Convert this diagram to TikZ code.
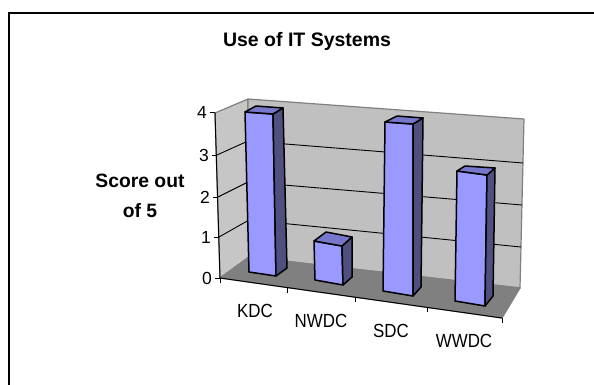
\documentclass[tikz,border=0pt]{standalone}
\usepackage{fontspec}
\setmainfont{Liberation Sans}
\definecolor{barfront}{RGB}{153,153,255}
\definecolor{bartop}{RGB}{119,119,204}
\definecolor{barside}{RGB}{80,80,128}
\definecolor{sidewall}{RGB}{198,198,198}
\definecolor{backwall}{RGB}{192,192,192}
\definecolor{floorgray}{RGB}{128,128,128}
\definecolor{walledge}{RGB}{128,128,128}
\begin{document}
\begin{tikzpicture}[x=1pt,y=-1pt,
  wall/.style={draw=walledge,line width=1.2pt,line join=round},
  grid/.style={draw=black,line width=0.9pt},
  axis/.style={draw=black,line width=1pt},
  barface/.style={draw=black,line width=1.5pt,line join=round},
  ticklabel/.style={font=\fontsize{17.5}{20}\selectfont,inner sep=0pt,anchor=base east},
  catlabel/.style={font=\fontsize{19}{22}\selectfont,inner sep=0pt,anchor=base,xscale=0.89},
  heading/.style={font=\bfseries\fontsize{19.5}{23}\selectfont,inner sep=0pt,anchor=base}]
\useasboundingbox (0,0) rectangle (594,385);
\fill[white] (0,0) rectangle (594,385);
% chart area frame
\draw[line width=2pt] (9,395) -- (9,13) -- (600,13);

% walls and floor
\path[wall,fill=sidewall] (215,113) -- (248,99) -- (249,257) -- (220,278) -- cycle;
\path[wall,fill=backwall] (248,99) -- (524,119) -- (520,288) -- (249,257) -- cycle;
\path[wall,fill=floorgray] (220,278) -- (249,257) -- (520,288) -- (502,318) -- cycle;

% gridlines
\draw[grid] (217,155) -- (248,141) -- (523,163);
\draw[grid] (218,197) -- (248,182) -- (522,205);
\draw[grid] (219,237) -- (249,220) -- (521,247);

% value axis with ticks
\draw[axis] (215,113) -- (220,278);
\foreach \x/\y in {215/113,217/155,218/197,219/237,220/278}
  \draw[axis] (\x-5,\y) -- (\x,\y);
% category axis with ticks
\draw[axis] (220,278) -- (502,318);
\foreach \x/\y in {220/278,287/287.5,355/297.1,427/307.4,502/318}
  \draw[axis] (\x,\y) -- (\x,\y+5);

% value labels
\node[ticklabel] (v4) at (207,119) {4};
\node[ticklabel] (v3) at (209,161) {3};
\node[ticklabel] (v2) at (210,203) {2};
\node[ticklabel] (v1) at (211,243) {1};
\node[ticklabel] (v0) at (212,284) {0};

% bars: front, side and top faces
\newcommand{\chartbar}[7]{%
  \path[barface,fill=barfront] #1 -- #2 -- #6 -- #5 -- cycle;
  \path[barface,fill=barside] #2 -- #3 -- #7 -- #6 -- cycle;
  \path[barface,fill=bartop] #1 -- #2 -- #3 -- #4 -- cycle;}
\chartbar{(245,112)}{(273,114)}{(283,108)}{(256,106)}{(249,272)}{(276,276)}{(287,268)}
\chartbar{(314,241)}{(342,246)}{(352,237)}{(326,232)}{(315,280)}{(343,285)}{(352,277)}
\chartbar{(385,122)}{(413,124)}{(423,118)}{(397,116)}{(383,291)}{(413,296)}{(421,287)}
\chartbar{(457,171)}{(487,175)}{(495,168)}{(465,166)}{(455,301)}{(485,306)}{(493,296)}

% category labels
\node[catlabel] (kdc) at (255,317) {KDC};
\node[catlabel] (nwdc) at (321,327) {NWDC};
\node[catlabel] (sdc) at (391,337) {SDC};
\node[catlabel] (wwdc) at (464,347) {WWDC};

% titles
\node[heading] (title) at (307,47) {Use of IT Systems};
\node[heading,font=\bfseries\fontsize{19.3}{30}\selectfont,align=center] (ylabel) at (140,217) {Score out\\of 5};
\end{tikzpicture}
\end{document}
